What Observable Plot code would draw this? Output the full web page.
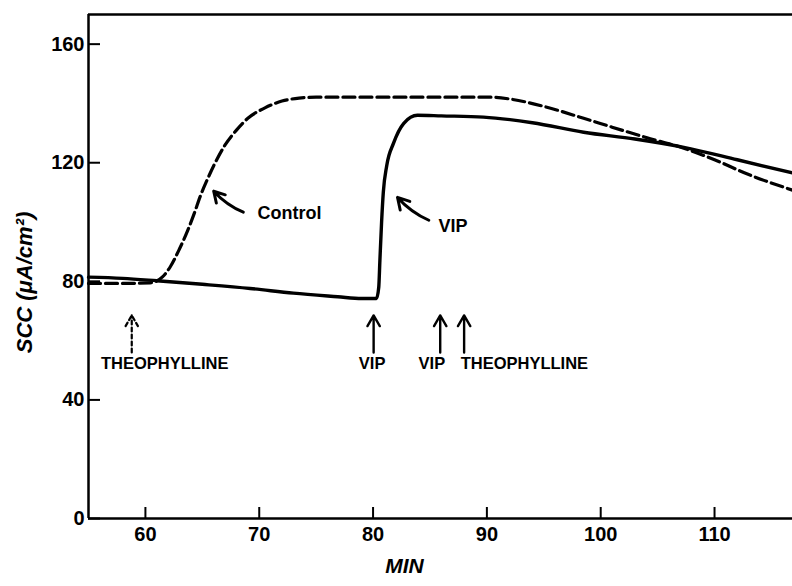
<!DOCTYPE html>
<html>
<head>
<meta charset="utf-8">
<script src="https://cdn.jsdelivr.net/npm/d3@7"></script>
<script src="https://cdn.jsdelivr.net/npm/@observablehq/plot@0.6"></script>
<style>
  html, body { margin: 0; padding: 0; background: white; }
</style>
</head>
<body>
<div id="chart"></div>
<script>
// Control (dashed) curve
const controlTimes  = [55, 58, 60.4, 61.5, 62.2, 63, 63.7, 64.3, 64.8, 65.4, 66, 67, 68, 69, 70.5, 72, 73.5, 75, 80, 85, 90.3, 92, 95, 98.5, 101, 104, 107.3, 110, 113, 116.9];
const controlValues = [79.3, 79.3, 79.5, 81.5, 85, 91, 97, 103, 108.5, 114, 119, 126, 131, 135, 138.5, 140.8, 141.8, 142.1, 142.1, 142.1, 142.1, 141.5, 139, 135, 132, 128.5, 124.9, 121, 116, 110.7];

// VIP (solid) curve
const vipTimes  = [55, 58, 61, 65, 69.2, 73, 76.9, 79, 80.3, 80.5, 80.6, 80.75, 80.9, 81.2, 81.8, 82.7, 83.9, 86, 89.7, 94, 98.5, 103, 107.3, 112, 116.9];
const vipValues = [81.4, 81, 80.2, 79, 77.6, 76, 74.8, 74.2, 74.2, 78, 87, 100, 110, 119, 126.6, 133.3, 136, 135.8, 135.4, 133.5, 130.3, 128, 125.2, 121, 116.5];

// Axis ticks
const xTicks = [60, 70, 80, 90, 100, 110];
const yTicks = [0, 40, 80, 120, 160];

// Event markers (time of addition)
const dashedEventTimes = [58.8];
const solidEventTimes = [80.05, 85.9, 88.0];
const eventArrowBase = 56;
const eventArrowTip = 68.5;
const eventLabels = ["THEOPHYLLINE", "VIP", "VIP", "THEOPHYLLINE"];
const eventLabelTimes = [56.1, 78.75, 84.0, 87.7];
const eventLabelValue = 52.3;

// Curve annotations
const curveLabels = ["Control", "VIP"];
const curveLabelTimes = [69.85, 85.75];
const curveLabelValues = [103, 98.6];
const pointerTail = [[68.6, 103.3], [84.9, 100.6]];
const pointerTip = [[66.0, 110.4], [82.15, 108.3]];

const xDomain = [55, 116.85];
const yDomain = [0, 170];

const controlData = controlTimes.map((t, i) => ({t, v: controlValues[i]}));
const vipData = vipTimes.map((t, i) => ({t, v: vipValues[i]}));
const eventLabelData = eventLabels.map((s, i) => ({s, t: eventLabelTimes[i], v: eventLabelValue}));
const curveLabelData = curveLabels.map((s, i) => ({s, t: curveLabelTimes[i], v: curveLabelValues[i]}));
const pointerData = pointerTail.map((p, i) => ({x1: p[0], y1: p[1], x2: pointerTip[i][0], y2: pointerTip[i][1]}));

const font = "'Liberation Sans', Arial, Helvetica, sans-serif";

const chart = Plot.plot({
  width: 792,
  height: 586,
  marginLeft: 88,
  marginRight: 0,
  marginTop: 14,
  marginBottom: 68,
  x: {domain: xDomain},
  y: {domain: yDomain},
  style: {fontFamily: font, background: "white", color: "black", overflow: "visible"},
  marks: [
    // frame lines
    Plot.ruleY([yDomain[1]], {stroke: "black", strokeWidth: 2.5}),
    Plot.ruleY([yDomain[0]], {stroke: "black", strokeWidth: 2.5}),
    Plot.ruleX([xDomain[0]], {stroke: "black", strokeWidth: 2.5}),
    // inward ticks
    Plot.tickX(xTicks, {x: d => d, stroke: "black", strokeWidth: 2, insetTop: 493}),
    Plot.tickY(yTicks, {y: d => d, stroke: "black", strokeWidth: 2, insetRight: 692}),
    // tick labels
    Plot.axisX({ticks: xTicks, tickSize: 0, tickPadding: 8, fontSize: 20, fontWeight: "bold", label: null}),
    Plot.axisY({ticks: yTicks, tickSize: 0, tickPadding: 4, fontSize: 20, fontWeight: "bold", label: null}),
    // axis titles
    Plot.text(["SCC (μA/cm²)"], {frameAnchor: "left", dx: -64, dy: 16, rotate: -90, fontSize: 22, fontStyle: "italic", fontWeight: 600, fill: "black", textAnchor: "middle", letterSpacing: 1}),
    Plot.text(["MIN"], {frameAnchor: "bottom", dx: -36, dy: 54, fontSize: 21, fontStyle: "italic", fontWeight: "bold", fill: "black", letterSpacing: 1}),
    // curves
    Plot.line(controlData, {x: "t", y: "v", curve: "monotone-x", stroke: "black", strokeWidth: 3.2, strokeDasharray: "12,5"}),
    Plot.line(vipData, {x: "t", y: "v", curve: "monotone-x", stroke: "black", strokeWidth: 3.4}),
    // event arrows
    Plot.arrow(dashedEventTimes, {x1: d => d, x2: d => d, y1: eventArrowBase, y2: eventArrowTip, stroke: "black", strokeWidth: 2.2, strokeDasharray: "4,3", headLength: 9}),
    Plot.arrow(solidEventTimes, {x1: d => d, x2: d => d, y1: eventArrowBase, y2: eventArrowTip, stroke: "black", strokeWidth: 2.4, headLength: 9}),
    Plot.text(eventLabelData, {x: "t", y: "v", text: "s", textAnchor: "start", fontSize: 16.5, fontWeight: "bold", fill: "black"}),
    // curve pointers
    Plot.arrow(pointerData, {x1: "x1", y1: "y1", x2: "x2", y2: "y2", bend: 12, stroke: "black", strokeWidth: 3, headLength: 10}),
    Plot.text(curveLabelData, {x: "t", y: "v", text: "s", textAnchor: "start", fontSize: 18, fontWeight: "bold", fill: "black"})
  ]
});
document.getElementById("chart").appendChild(chart);
</script>
</body>
</html>
